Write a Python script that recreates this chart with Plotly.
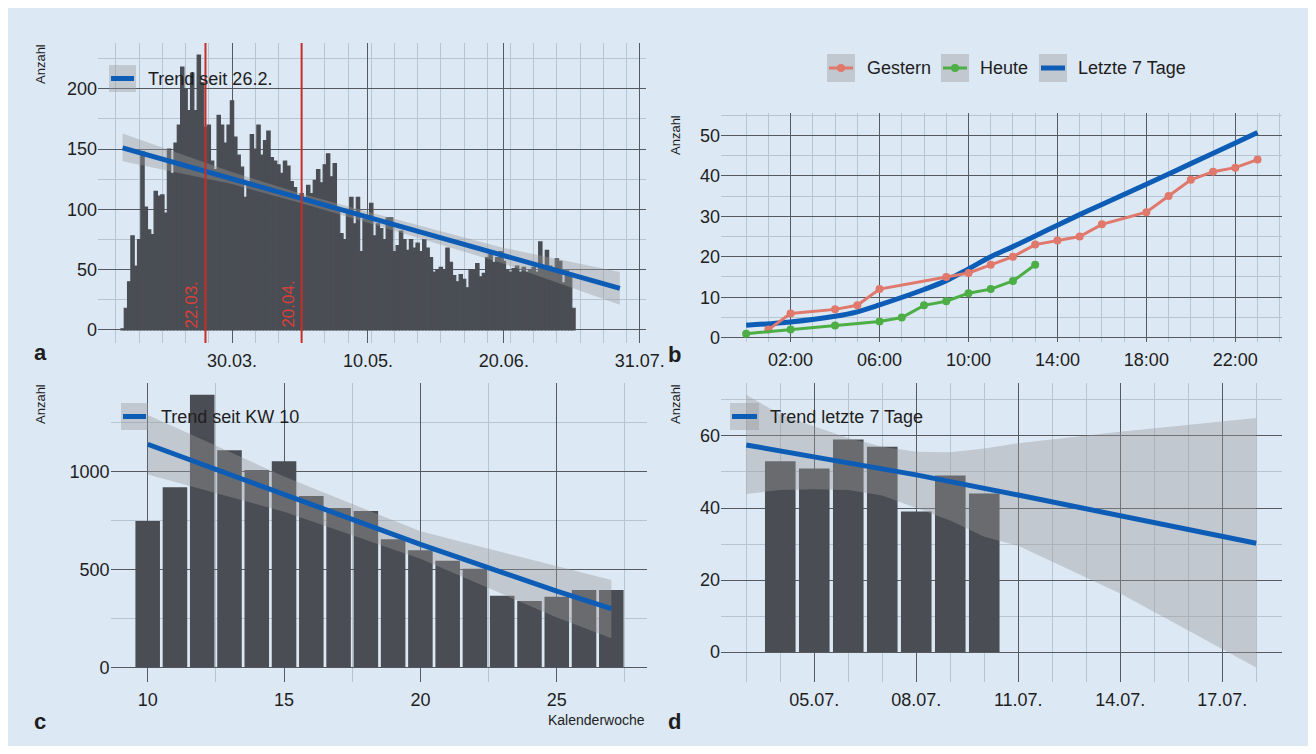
import plotly.graph_objects as go
import pandas as pd

# ---------------- data ----------------
# Panel a: daily counts since 26.02.
a_start = "2020-02-26"
a_counts = [
    1, 18, 40, 78, 53, 75, 148, 102, 83, 79,
    115, 111, 112, 97, 150, 130, 155, 170, 218, 200,
    182, 213, 182, 228, 205, 168, 170, 140, 133, 178,
    170, 155, 170, 190, 160, 145, 135, 110, 120, 162,
    150, 170, 145, 157, 165, 143, 140, 137, 130, 140,
    136, 123, 118, 110, 113, 108, 120, 113, 124, 133,
    122, 137, 146, 127, 138, 100, 80, 75, 100, 110,
    88, 110, 65, 92, 92, 105, 78, 88, 84, 75,
    93, 93, 65, 70, 82, 75, 66, 75, 68, 72,
    65, 75, 68, 60, 48, 50, 52, 50, 68, 56,
    45, 40, 46, 42, 35, 50, 50, 55, 44, 47,
    60, 64, 56, 60, 65, 57, 50, 48, 51, 53,
    48, 52, 48, 50, 52, 48, 73, 52, 66, 53,
    51, 59, 57, 39, 49, 44, 18,
]
a_trend_x = ["2020-02-26", "2020-07-25"]
a_trend_y = [151, 34.5]
a_band_x = ["2020-02-26", "2020-03-30", "2020-04-20", "2020-05-10", "2020-06-20", "2020-07-25"]
a_band_lo = [140, 121, 105, 89, 55, 21]
a_band_hi = [163, 131, 113, 98, 68, 48]
event_dates = ["2020-03-22", "2020-04-20"]
event_labels = ["22.03.", "20.04."]
a_tickvals = ["2020-03-30", "2020-05-10", "2020-06-20", "2020-07-31"]
a_ticktext = ["30.03.", "10.05.", "20.06.", "31.07."]

# Panel b: cumulative counts per hour
b_hours_gestern = [1, 2, 4, 5, 6, 9, 10, 11, 12, 13, 14, 15, 16, 18, 19, 20, 21, 22, 23]
b_gestern = [2, 6, 7, 8, 12, 15, 16, 18, 20, 23, 24, 25, 28, 31, 35, 39, 41, 42, 44]
b_hours_heute = [0, 2, 4, 6, 7, 8, 9, 10, 11, 12, 13]
b_heute = [1, 2, 3, 4, 5, 8, 9, 11, 12, 14, 18]
b_hours_7d = [0, 2, 4, 5, 6, 8, 9, 10, 11, 12, 13, 14, 15, 16, 18, 20, 22, 23]
b_7d = [3.1, 3.9, 5.3, 6.4, 8.1, 11.9, 14.1, 17.0, 20.0, 22.5, 25.1, 27.8, 30.4, 32.9, 37.9, 43.0, 48.1, 50.7]
b_tickvals = [2, 6, 10, 14, 18, 22]
b_ticktext = ["02:00", "06:00", "10:00", "14:00", "18:00", "22:00"]
b_names = ["Gestern", "Heute", "Letzte 7 Tage"]

# Panel c: weekly counts
c_weeks = list(range(10, 28))
c_counts = [748, 920, 1393, 1109, 1008, 1053, 876, 814, 799, 654, 598, 545, 504, 366, 339, 361, 395, 395]
c_trend_w = [10, 15, 20, 25, 27]
c_trend_y = [1140, 885, 628, 390, 300]
c_band_lo = [985, 795, 555, 255, 148]
c_band_hi = [1290, 975, 695, 515, 446]

# Panel d: last 7 days
d_dates = ["2020-07-04", "2020-07-05", "2020-07-06", "2020-07-07", "2020-07-08", "2020-07-09", "2020-07-10"]
d_counts = [53, 51, 59, 57, 39, 49, 44]
d_trend_x = ["2020-07-03", "2020-07-08", "2020-07-11", "2020-07-14", "2020-07-18"]
d_trend_y = [57.5, 49.2, 43.6, 38.0, 30.2]
d_band_x = ["2020-07-03", "2020-07-04", "2020-07-05", "2020-07-06", "2020-07-07", "2020-07-08",
            "2020-07-09", "2020-07-10", "2020-07-11", "2020-07-14", "2020-07-18"]
d_band_hi = [71.4, 66.0, 62.6, 59.4, 57.0, 55.6, 55.5, 56.5, 58.0, 61.2, 65.0]
d_band_lo = [43.9, 45.0, 45.2, 45.0, 43.5, 40.0, 36.5, 32.0, 29.5, 16.3, -4.3]
d_tickvals = ["2020-07-05", "2020-07-08", "2020-07-11", "2020-07-14", "2020-07-17"]
d_ticktext = ["05.07.", "08.07.", "11.07.", "14.07.", "17.07."]

# ---------------- style ----------------
OFF = 8                      # browser body margin
FW, FH = 1316 - 2 * OFF, 754 - 2 * OFF
BG = "#dce8f4"
BAR = "#4a4e54"
BLUE = "#0d5cb6"
BAND = "rgba(153,153,153,0.4)"
MAJ = "#555a61"
MIN = "#b7c4d1"
RED = "#c62f28"
SALMON = "#e0786c"
GREEN = "#4cae45"
TXT = "#1e1e1e"
FONT = "Liberation Sans, Arial, Helvetica, sans-serif"
DAY = 86400000


def px(x):
    return (x - OFF) / FW


def py(y):
    return 1 - (y - OFF) / FH


def ax(**kw):
    d = dict(showgrid=True, gridcolor=MAJ, gridwidth=1, zeroline=False, showline=False,
             ticks="", tickfont=dict(size=18, color=TXT, family=FONT), automargin=False,
             fixedrange=True)
    d.update(kw)
    return d


def minor(vals):
    return dict(tickvals=vals, showgrid=True, gridcolor=MIN, gridwidth=1, ticks="")


fig = go.Figure()

# ---- panel a
a_dates = pd.date_range(a_start, periods=len(a_counts), freq="D")
fig.add_trace(go.Bar(x=a_dates, y=a_counts, width=DAY, marker=dict(color=BAR, line=dict(width=1.2, color=BAR)),
                     xaxis="x", yaxis="y", showlegend=False, hoverinfo="skip"))
fig.add_trace(go.Scatter(x=a_band_x + a_band_x[::-1], y=a_band_hi + a_band_lo[::-1], fill="toself",
                         fillcolor=BAND, line=dict(width=0), mode="lines", xaxis="x", yaxis="y",
                         showlegend=False, hoverinfo="skip"))
fig.add_trace(go.Scatter(x=a_trend_x, y=a_trend_y, mode="lines", line=dict(color=BLUE, width=5),
                         xaxis="x", yaxis="y", showlegend=False))

# ---- panel b
fig.add_trace(go.Scatter(x=b_hours_7d, y=b_7d, mode="lines", line=dict(color=BLUE, width=5, shape="spline"),
                         xaxis="x2", yaxis="y2", showlegend=False))
fig.add_trace(go.Scatter(x=b_hours_gestern, y=b_gestern, mode="lines+markers",
                         line=dict(color=SALMON, width=3), marker=dict(size=8, color=SALMON),
                         xaxis="x2", yaxis="y2", showlegend=False))
fig.add_trace(go.Scatter(x=b_hours_heute, y=b_heute, mode="lines+markers",
                         line=dict(color=GREEN, width=3), marker=dict(size=8, color=GREEN),
                         xaxis="x2", yaxis="y2", showlegend=False))

# ---- panel c
fig.add_trace(go.Bar(x=c_weeks, y=c_counts, width=0.9, marker=dict(color=BAR, line=dict(width=0)),
                     xaxis="x3", yaxis="y3", showlegend=False, hoverinfo="skip"))
fig.add_trace(go.Scatter(x=c_trend_w + c_trend_w[::-1], y=c_band_hi + c_band_lo[::-1], fill="toself",
                         fillcolor=BAND, line=dict(width=0), mode="lines", xaxis="x3", yaxis="y3",
                         showlegend=False, hoverinfo="skip"))
fig.add_trace(go.Scatter(x=c_trend_w, y=c_trend_y, mode="lines", line=dict(color=BLUE, width=5),
                         xaxis="x3", yaxis="y3", showlegend=False))

# ---- panel d
fig.add_trace(go.Bar(x=d_dates, y=d_counts, width=0.9 * DAY, marker=dict(color=BAR, line=dict(width=0)),
                     xaxis="x4", yaxis="y4", showlegend=False, hoverinfo="skip"))
fig.add_trace(go.Scatter(x=d_band_x + d_band_x[::-1], y=d_band_hi + d_band_lo[::-1], fill="toself",
                         fillcolor=BAND, line=dict(width=0), mode="lines", xaxis="x4", yaxis="y4",
                         showlegend=False, hoverinfo="skip"))
fig.add_trace(go.Scatter(x=d_trend_x, y=d_trend_y, mode="lines", line=dict(color=BLUE, width=5),
                         xaxis="x4", yaxis="y4", showlegend=False))

# ---------------- axes ----------------
a_minor = [d.strftime("%Y-%m-%d") for d in pd.date_range("2020-02-17", "2020-08-03", freq="7D")]
d_minor = [d.strftime("%Y-%m-%d") for d in pd.date_range("2020-07-01", "2020-07-20", freq="D")]
XSTAND = 5

fig.update_layout(
    xaxis=ax(domain=[px(98), px(646)], anchor="y", type="date",
             range=["2020-02-18 14:00", "2020-08-01 21:00"], ticklabelstandoff=XSTAND,
             tickmode="array", tickvals=a_tickvals, ticktext=a_ticktext, minor=minor(a_minor)),
    yaxis=ax(domain=[py(343), py(43)], anchor="x", range=[-10.8, 238], tick0=0, dtick=50,
             minor=minor([25, 75, 125, 175, 225])),
    xaxis2=ax(domain=[px(721), px(1282)], anchor="y2", range=[-1.13, 24.1], ticklabelstandoff=XSTAND,
              tickmode="array", tickvals=b_tickvals, ticktext=b_ticktext,
              minor=minor(list(range(0, 25)))),
    yaxis2=ax(domain=[py(342), py(113)], anchor="x2", range=[-1.06, 55.5], tick0=0, dtick=10,
              minor=minor([5, 15, 25, 35, 45, 55])),
    xaxis3=ax(domain=[px(110.6), px(647.3)], anchor="y3", range=[8.64, 28.32], ticklabelstandoff=XSTAND,
              tickmode="array", tickvals=[10, 15, 20, 25], minor=minor([12.5, 17.5, 22.5, 27.5])),
    yaxis3=ax(domain=[py(682), py(383)], anchor="x3", range=[-75, 1453], tick0=0, dtick=500,
              minor=minor([250, 750, 1250])),
    xaxis4=ax(domain=[px(721), px(1282.4)], anchor="y4", type="date", ticklabelstandoff=XSTAND,
              range=["2020-07-02 06:09", "2020-07-18 18:29"],
              tickmode="array", tickvals=d_tickvals, ticktext=d_ticktext, minor=minor(d_minor)),
    yaxis4=ax(domain=[py(682), py(383)], anchor="x4", range=[-8.3, 74.7], tick0=0, dtick=20,
              minor=minor([10, 30, 50, 70])),
)

# ---------------- event lines (panel a) ----------------
shapes = []
annotations = []
for d, lab in zip(event_dates, event_labels):
    shapes.append(dict(type="line", xref="x", yref="y domain", x0=d, x1=d, y0=0, y1=1,
                       line=dict(color=RED, width=2), layer="above"))
    annotations.append(dict(x=d, y=0, xref="x", yref="y", text=lab, textangle=-90, showarrow=False,
                            xanchor="right", yanchor="bottom", xshift=-2,
                            font=dict(color="#d8403a", size=17, family=FONT)))


# ---------------- legends (drawn) ----------------
def key(x0, x1, y0, y1, color, marker=False):
    shapes.append(dict(type="rect", xref="paper", yref="paper", x0=px(x0), x1=px(x1), y0=py(y1), y1=py(y0),
                       fillcolor="rgba(153,153,153,0.4)", line=dict(width=0), layer="above"))
    ym = (y0 + y1) / 2
    shapes.append(dict(type="line", xref="paper", yref="paper", x0=px(x0 + 2), x1=px(x1 - 2), y0=py(ym), y1=py(ym),
                       line=dict(color=color, width=5 if not marker else 3), layer="above"))
    if marker:
        xm = (x0 + x1) / 2
        shapes.append(dict(type="circle", xref="paper", yref="paper", x0=px(xm - 4), x1=px(xm + 4),
                           y0=py(ym + 4), y1=py(ym - 4), fillcolor=color, line=dict(width=0), layer="above"))


def label(x, y, text, size=18, xanchor="left", yanchor="middle", angle=0, color=TXT):
    annotations.append(dict(x=px(x), y=py(y), xref="paper", yref="paper", text=text, showarrow=False,
                            xanchor=xanchor, yanchor=yanchor, textangle=angle,
                            font=dict(size=size, color=color, family=FONT)))


key(109, 136, 65, 92, BLUE)
label(146, 79, "Trend seit 26.2.")
key(121, 148, 403, 430, BLUE)
label(159, 417, "Trend seit KW 10")
key(730, 759, 403, 430, BLUE)
label(768, 417, "Trend letzte 7 Tage")

b_key_x = [827, 941, 1039]
b_text_x = [865, 978, 1076]
for kx, tx, nm, col, mk in zip(b_key_x, b_text_x, b_names, [SALMON, GREEN, BLUE], [True, True, False]):
    key(kx, kx + 28, 54, 82, col, marker=mk)
    label(tx, 68, nm)

# axis titles / panel letters
for x, y in [(40, 42), (675, 113), (40, 382), (675, 382)]:
    label(x, y, "Anzahl", size=13, xanchor="center", yanchor="top", angle=-90)
for x, y, t in [(40, 352, "a"), (674, 354, "b"), (40, 721, "c"), (674, 721, "d")]:
    label(x, y, "<b>" + t + "</b>", size=22, xanchor="center")
label(647, 720, "Kalenderwoche", size=14, xanchor="right")

fig.update_layout(
    width=FW, height=FH, margin=dict(l=0, r=0, t=0, b=0),
    paper_bgcolor=BG, plot_bgcolor=BG, barmode="overlay",
    font=dict(family=FONT, color=TXT),
    shapes=shapes, annotations=annotations, showlegend=False,
)

fig.write_html("out.html")
